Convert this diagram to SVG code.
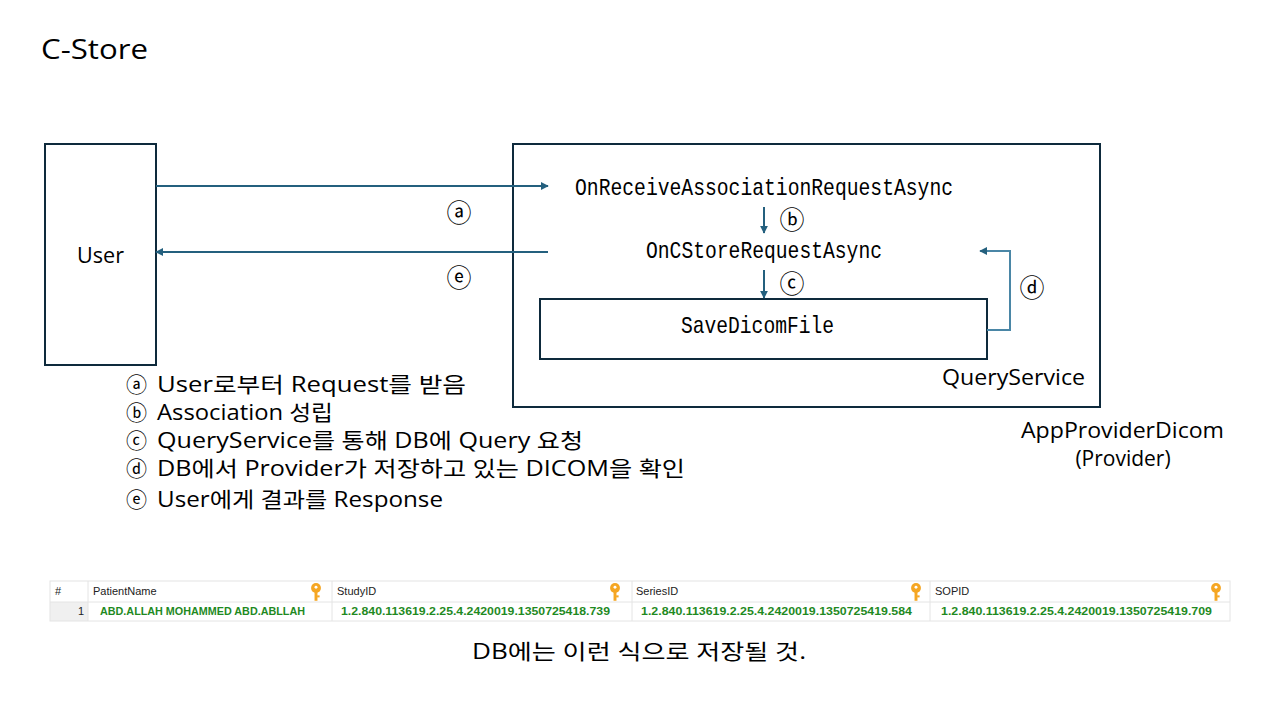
<svg xmlns="http://www.w3.org/2000/svg" width="1280" height="720" viewBox="0 0 1280 720">
<style>
.box{fill:none;stroke:#0e2a3c;stroke-width:2}
.con{fill:none;stroke:#24607e;stroke-width:2}
.conl{fill:none;stroke:#4a86a6;stroke-width:2}
.ui{font-family:"Open Sans","Noto Sans CJK KR",sans-serif;fill:#000}
.circ{font-family:"Noto Sans CJK KR",sans-serif;font-size:25px;fill:#000}
.mono{font-family:"Liberation Mono","DejaVu Sans Mono",monospace;font-size:24px;fill:#000}
.th{font-family:"Liberation Sans",Arial,sans-serif;font-size:11px;fill:#222}
.td{font-family:"Liberation Sans",Arial,sans-serif;font-size:11px;font-weight:bold;fill:#1f8a1f}
.grid{fill:none;stroke:#e4e4e4;stroke-width:1}
</style>
<defs>
<marker id="ah" viewBox="0 0 10 10" refX="9" refY="5" markerWidth="4" markerHeight="4" orient="auto" markerUnits="strokeWidth">
<path d="M0,0 L10,5 L0,10 z" fill="#24607e"/>
</marker>
<symbol id="key" viewBox="0 0 10 16">
<circle cx="5" cy="4.5" r="4.4" fill="#f5a623"/>
<rect x="3.7" y="7" width="2.6" height="8.8" fill="#f5a623"/>
<rect x="6" y="11" width="2.2" height="1.8" fill="#f5a623"/>
<circle cx="5" cy="3.8" r="1.3" fill="#fff"/>
</symbol>
</defs>
<rect width="1280" height="720" fill="#fff"/>
<text x="41" y="59" class="ui" font-size="28" textLength="107" lengthAdjust="spacingAndGlyphs">C-Store</text>

<g id="user">
<rect class="box" x="45" y="144" width="111" height="221"/>
<text x="77" y="263" class="ui" font-size="21" textLength="47" lengthAdjust="spacingAndGlyphs">User</text>
</g>

<g id="provider">
<rect class="box" x="513" y="144" width="587" height="263"/>
<text x="942" y="385" class="ui" font-size="21" textLength="143" lengthAdjust="spacingAndGlyphs">QueryService</text>
<text x="1021" y="438" class="ui" font-size="21" textLength="203" lengthAdjust="spacingAndGlyphs">AppProviderDicom</text>
<text x="1123" y="466" class="ui" font-size="21" text-anchor="middle">(Provider)</text>
</g>

<g id="onreceive">
<text x="575" y="195" class="mono" textLength="378" lengthAdjust="spacingAndGlyphs">OnReceiveAssociationRequestAsync</text>
</g>
<g id="oncstore">
<text x="646" y="258" class="mono" textLength="236" lengthAdjust="spacingAndGlyphs">OnCStoreRequestAsync</text>
</g>
<g id="savedicom">
<rect class="box" x="540" y="299" width="447" height="60"/>
<text x="681" y="333" class="mono" textLength="153" lengthAdjust="spacingAndGlyphs">SaveDicomFile</text>
</g>

<g id="connectors">
<line class="con" x1="156" y1="186" x2="548" y2="186" marker-end="url(#ah)"/>
<line class="con" x1="548" y1="252" x2="156" y2="252" marker-end="url(#ah)"/>
<line class="con" x1="764" y1="207" x2="764" y2="233" marker-end="url(#ah)"/>
<line class="con" x1="764" y1="270" x2="764" y2="298" marker-end="url(#ah)"/>
<polyline class="conl" points="987,330 1010,330 1010,251 980,251" marker-end="url(#ah)"/>
<text x="459" y="222" class="circ" text-anchor="middle">ⓐ</text>
<text x="459" y="287" class="circ" text-anchor="middle">ⓔ</text>
<text x="792" y="229" class="circ" text-anchor="middle">ⓑ</text>
<text x="792" y="293" class="circ" text-anchor="middle">ⓒ</text>
<text x="1032" y="297" class="circ" text-anchor="middle">ⓓ</text>
</g>

<g id="legend" class="ui" font-size="21">
<text x="126" y="392">ⓐ<tspan x="157" textLength="309" lengthAdjust="spacingAndGlyphs">User로부터 Request를 받음</tspan></text>
<text x="126" y="420">ⓑ<tspan x="157" textLength="176" lengthAdjust="spacingAndGlyphs">Association 성립</tspan></text>
<text x="126" y="448">ⓒ<tspan x="157" textLength="426" lengthAdjust="spacingAndGlyphs">QueryService를 통해 DB에 Query 요청</tspan></text>
<text x="126" y="476">ⓓ<tspan x="157" textLength="528" lengthAdjust="spacingAndGlyphs">DB에서 Provider가 저장하고 있는 DICOM을 확인</tspan></text>
<text x="126" y="507">ⓔ<tspan x="157" textLength="286" lengthAdjust="spacingAndGlyphs">User에게 결과를 Response</tspan></text>
</g>

<g id="table">
<rect x="50" y="602" width="38" height="19" fill="#f0f0f0"/>
<rect class="grid" x="50" y="581" width="1180" height="40"/>
<line class="grid" x1="50" y1="602" x2="1230" y2="602"/>
<line class="grid" x1="88" y1="581" x2="88" y2="621"/>
<line class="grid" x1="332" y1="581" x2="332" y2="621"/>
<line class="grid" x1="632" y1="581" x2="632" y2="621"/>
<line class="grid" x1="930" y1="581" x2="930" y2="621"/>
<text x="55" y="595" class="th">#</text>
<text x="93" y="595" class="th">PatientName</text>
<text x="337" y="595" class="th">StudyID</text>
<text x="636" y="595" class="th">SeriesID</text>
<text x="935" y="595" class="th">SOPID</text>
<use href="#key" x="310" y="583" width="12" height="18"/>
<use href="#key" x="609" y="583" width="12" height="18"/>
<use href="#key" x="910" y="583" width="12" height="18"/>
<use href="#key" x="1210" y="583" width="12" height="18"/>
<text x="84" y="615" class="th" text-anchor="end" fill="#555">1</text>
<text x="100" y="615" class="td" textLength="205" lengthAdjust="spacingAndGlyphs">ABD.ALLAH MOHAMMED ABD.ABLLAH</text>
<text x="341" y="615" class="td" textLength="269" lengthAdjust="spacingAndGlyphs">1.2.840.113619.2.25.4.2420019.1350725418.739</text>
<text x="641" y="615" class="td" textLength="271" lengthAdjust="spacingAndGlyphs">1.2.840.113619.2.25.4.2420019.1350725419.584</text>
<text x="941" y="615" class="td" textLength="271" lengthAdjust="spacingAndGlyphs">1.2.840.113619.2.25.4.2420019.1350725419.709</text>
</g>

<text x="472" y="659" class="ui" font-size="21" textLength="334" lengthAdjust="spacingAndGlyphs">DB에는 이런 식으로 저장될 것.</text>
</svg>
